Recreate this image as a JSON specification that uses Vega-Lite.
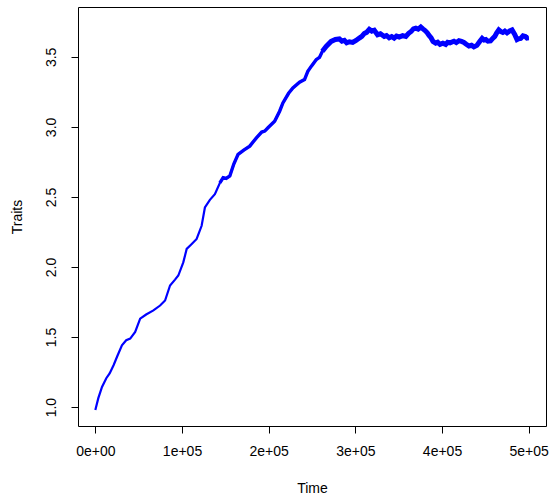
{
  "$schema": "https://vega.github.io/schema/vega-lite/v6.json",
  "autosize": "none",
  "width": 468,
  "height": 419,
  "padding": {"left": 78, "top": 7, "right": 6, "bottom": 72},
  "background": "white",
  "config": {
    "font": "Liberation Sans",
    "view": {"stroke": "#000000", "strokeWidth": 1},
    "axis": {
      "domain": false,
      "grid": false,
      "tickColor": "#000000",
      "tickSize": 7,
      "labelFont": "Liberation Sans",
      "labelFontSize": 14,
      "labelColor": "#000000",
      "titleFont": "Liberation Sans",
      "titleFontSize": 14,
      "titleFontWeight": "normal",
      "titleColor": "#000000"
    }
  },
  "data": {
    "values": [
      {"Time": 0, "Traits": 0.979},
      {"Time": 3448, "Traits": 1.064},
      {"Time": 7701, "Traits": 1.144},
      {"Time": 12644, "Traits": 1.206},
      {"Time": 16500, "Traits": 1.24},
      {"Time": 21034, "Traits": 1.299},
      {"Time": 25287, "Traits": 1.363},
      {"Time": 30690, "Traits": 1.441},
      {"Time": 35632, "Traits": 1.477},
      {"Time": 40230, "Traits": 1.489},
      {"Time": 45977, "Traits": 1.536},
      {"Time": 51724, "Traits": 1.631},
      {"Time": 58621, "Traits": 1.661},
      {"Time": 67011, "Traits": 1.69},
      {"Time": 74713, "Traits": 1.725},
      {"Time": 80460, "Traits": 1.761},
      {"Time": 86207, "Traits": 1.868},
      {"Time": 91954, "Traits": 1.91},
      {"Time": 95747, "Traits": 1.939},
      {"Time": 101494, "Traits": 2.033},
      {"Time": 105402, "Traits": 2.129},
      {"Time": 110345, "Traits": 2.159},
      {"Time": 116897, "Traits": 2.2},
      {"Time": 122644, "Traits": 2.294},
      {"Time": 126437, "Traits": 2.425},
      {"Time": 132184, "Traits": 2.479},
      {"Time": 137931, "Traits": 2.52},
      {"Time": 143678, "Traits": 2.6},
      {"Time": 147471, "Traits": 2.638},
      {"Time": 151000, "Traits": 2.632},
      {"Time": 155172, "Traits": 2.65},
      {"Time": 159770, "Traits": 2.735},
      {"Time": 164713, "Traits": 2.804},
      {"Time": 171264, "Traits": 2.835},
      {"Time": 178161, "Traits": 2.863},
      {"Time": 185862, "Traits": 2.922},
      {"Time": 191954, "Traits": 2.963},
      {"Time": 195500, "Traits": 2.97},
      {"Time": 199195, "Traits": 2.994},
      {"Time": 206897, "Traits": 3.041},
      {"Time": 212644, "Traits": 3.112},
      {"Time": 216437, "Traits": 3.171},
      {"Time": 222989, "Traits": 3.24},
      {"Time": 227931, "Traits": 3.278},
      {"Time": 235632, "Traits": 3.319},
      {"Time": 241379, "Traits": 3.338},
      {"Time": 245172, "Traits": 3.397},
      {"Time": 249080, "Traits": 3.432},
      {"Time": 254828, "Traits": 3.48},
      {"Time": 258621, "Traits": 3.496},
      {"Time": 262000, "Traits": 3.54},
      {"Time": 266322, "Traits": 3.575},
      {"Time": 272069, "Traits": 3.61},
      {"Time": 277011, "Traits": 3.624},
      {"Time": 281609, "Traits": 3.628},
      {"Time": 284500, "Traits": 3.612},
      {"Time": 287356, "Traits": 3.618},
      {"Time": 290000, "Traits": 3.6},
      {"Time": 293103, "Traits": 3.608},
      {"Time": 297000, "Traits": 3.603},
      {"Time": 300805, "Traits": 3.617},
      {"Time": 304598, "Traits": 3.634},
      {"Time": 307500, "Traits": 3.646},
      {"Time": 310345, "Traits": 3.667},
      {"Time": 313000, "Traits": 3.675},
      {"Time": 316092, "Traits": 3.697},
      {"Time": 319000, "Traits": 3.684},
      {"Time": 321839, "Traits": 3.69},
      {"Time": 325632, "Traits": 3.658},
      {"Time": 329000, "Traits": 3.665},
      {"Time": 333333, "Traits": 3.646},
      {"Time": 336000, "Traits": 3.652},
      {"Time": 339080, "Traits": 3.636},
      {"Time": 342000, "Traits": 3.645},
      {"Time": 344828, "Traits": 3.634},
      {"Time": 347500, "Traits": 3.648},
      {"Time": 350575, "Traits": 3.642},
      {"Time": 354500, "Traits": 3.652},
      {"Time": 358276, "Traits": 3.646},
      {"Time": 361500, "Traits": 3.668},
      {"Time": 364368, "Traits": 3.681},
      {"Time": 367000, "Traits": 3.7},
      {"Time": 369770, "Traits": 3.705},
      {"Time": 372500, "Traits": 3.698},
      {"Time": 375517, "Traits": 3.713},
      {"Time": 378000, "Traits": 3.7},
      {"Time": 380460, "Traits": 3.688},
      {"Time": 383000, "Traits": 3.672},
      {"Time": 385057, "Traits": 3.653},
      {"Time": 387500, "Traits": 3.635},
      {"Time": 389655, "Traits": 3.61},
      {"Time": 392759, "Traits": 3.598},
      {"Time": 395000, "Traits": 3.604},
      {"Time": 397701, "Traits": 3.589},
      {"Time": 401000, "Traits": 3.598},
      {"Time": 404253, "Traits": 3.589},
      {"Time": 406500, "Traits": 3.604},
      {"Time": 409195, "Traits": 3.6},
      {"Time": 413793, "Traits": 3.612},
      {"Time": 416500, "Traits": 3.602},
      {"Time": 419540, "Traits": 3.615},
      {"Time": 422500, "Traits": 3.61},
      {"Time": 425287, "Traits": 3.603},
      {"Time": 428000, "Traits": 3.59},
      {"Time": 431034, "Traits": 3.578},
      {"Time": 434000, "Traits": 3.583},
      {"Time": 436782, "Traits": 3.571},
      {"Time": 440230, "Traits": 3.582},
      {"Time": 443500, "Traits": 3.61},
      {"Time": 446322, "Traits": 3.632},
      {"Time": 448500, "Traits": 3.62},
      {"Time": 450575, "Traits": 3.624},
      {"Time": 453000, "Traits": 3.612},
      {"Time": 455977, "Traits": 3.614},
      {"Time": 458500, "Traits": 3.632},
      {"Time": 460920, "Traits": 3.646},
      {"Time": 463000, "Traits": 3.67},
      {"Time": 465517, "Traits": 3.693},
      {"Time": 468000, "Traits": 3.68},
      {"Time": 470115, "Traits": 3.674},
      {"Time": 472500, "Traits": 3.684},
      {"Time": 475057, "Traits": 3.671},
      {"Time": 478000, "Traits": 3.685},
      {"Time": 480805, "Traits": 3.692},
      {"Time": 483908, "Traits": 3.66},
      {"Time": 486552, "Traits": 3.624},
      {"Time": 488500, "Traits": 3.63},
      {"Time": 490805, "Traits": 3.632},
      {"Time": 493500, "Traits": 3.65},
      {"Time": 496207, "Traits": 3.646},
      {"Time": 498000, "Traits": 3.635},
      {"Time": 500000, "Traits": 3.637}
    ]
  },
  "encoding": {
    "x": {
      "field": "Time",
      "type": "quantitative",
      "scale": {"domain": [-20000, 520000], "nice": false, "zero": false},
      "axis": {
        "title": "Time",
        "values": [0, 100000, 200000, 300000, 400000, 500000],
        "labelExpr": "datum.value == 0 ? '0e+00' : format(datum.value / 100000, 'd') + 'e+05'",
        "labelPadding": 11,
        "titlePadding": 23
      }
    },
    "y": {
      "field": "Traits",
      "type": "quantitative",
      "scale": {"domain": [0.865, 3.856], "nice": false, "zero": false},
      "axis": {
        "title": "Traits",
        "values": [1.0, 1.5, 2.0, 2.5, 3.0, 3.5],
        "format": ".1f",
        "labelAngle": -90,
        "labelAlign": "center",
        "labelBaseline": "bottom",
        "labelPadding": 13,
        "titlePadding": 20
      }
    }
  },
  "layer": [
    {
      "mark": {"type": "line", "color": "#0000ff", "strokeWidth": 2.2, "clip": true}
    },
    {
      "transform": [{"filter": "datum.Time >= 140000"}],
      "mark": {"type": "line", "color": "#0000ff", "strokeWidth": 3.4, "clip": true}
    },
    {
      "transform": [{"filter": "datum.Time >= 262000"}],
      "mark": {"type": "line", "color": "#0000ff", "strokeWidth": 5, "clip": true}
    }
  ]
}
